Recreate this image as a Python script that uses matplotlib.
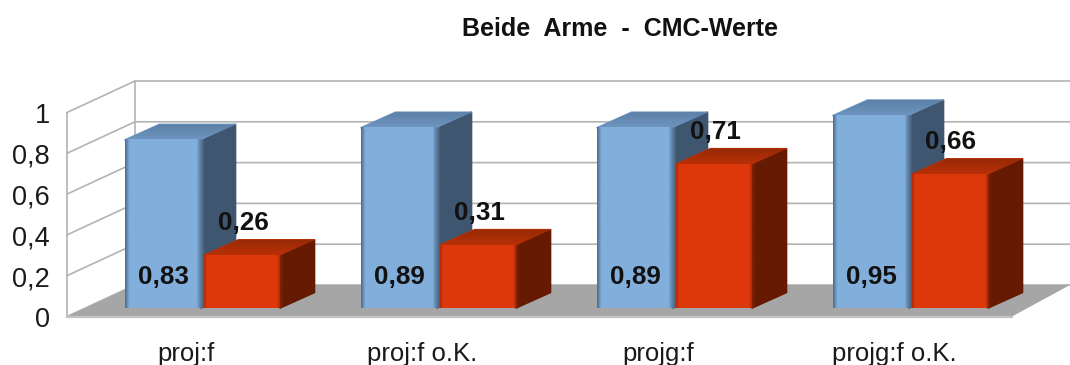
import numpy as np
import matplotlib
matplotlib.use("Agg")
import matplotlib.pyplot as plt
from matplotlib.colors import LinearSegmentedColormap
from matplotlib.patches import Polygon

categories = ["proj:f", "proj:f o.K.", "projg:f", "projg:f o.K."]
blue_values = [0.83, 0.89, 0.89, 0.95]
red_values = [0.26, 0.31, 0.71, 0.66]
y_ticks = [0, 0.2, 0.4, 0.6, 0.8, 1]
y_tick_labels = ["0", "0,2", "0,4", "0,6", "0,8", "1"]

plt.rcParams["font.family"] = ["Liberation Sans", "DejaVu Sans"]

# px per unit on the front plane, whole figure is one axes
PX_X, PX_Y = 236.0, 204.0
DX, DY = 68 / PX_X, 31.5 / PX_Y          # wall depth
BAR_DX, BAR_DY = 34.5 / PX_X, 15.5 / PX_Y  # bar depth
BASE = 8.5 / PX_Y                        # bar foot above front floor edge
BAR_W = 76 / PX_X
X0 = (67 - 203) / PX_X
X1 = (1012 - 203) / PX_X
X_END = (1070 - 203) / PX_X
GRID = "#b3b3b3"

fig = plt.figure(figsize=(10.7, 3.65), dpi=100)
ax = fig.add_axes([0, 0, 1, 1])
ax.axis("off")


def gradient(cols, extent, clip=None, vertical=False, z=3):
    cmap = LinearSegmentedColormap.from_list("g", cols)
    g = np.linspace(0, 1, 90)
    g = g[:, None] if vertical else g[None, :]
    im = ax.imshow(g, cmap=cmap, extent=extent, aspect="auto", zorder=z,
                   origin="lower", interpolation="bilinear")
    if clip is not None:
        im.set_clip_path(clip)


def bar3d(left, value, front, top_cols, side_cols, z):
    right = left + BAR_W
    y0 = BASE
    y1 = BASE + value * 202.5 / PX_Y
    # side
    side = Polygon([(right, y0), (right + BAR_DX, y0 + BAR_DY),
                    (right + BAR_DX, y1 + BAR_DY), (right, y1)],
                   closed=True, fc=side_cols[0], ec=side_cols[0], lw=1.2,
                   joinstyle="round", zorder=z)
    ax.add_patch(side)
    gradient([(0, side_cols[1]), (0.1, side_cols[0]), (1, side_cols[0])],
             (right, right + BAR_DX, y0, y1 + BAR_DY), clip=side, z=z + 0.1)
    # top
    top = Polygon([(left, y1), (right, y1), (right + BAR_DX, y1 + BAR_DY),
                   (left + BAR_DX, y1 + BAR_DY)],
                  closed=True, fc=top_cols[0], ec=top_cols[0], lw=1.2,
                  joinstyle="round", zorder=z)
    ax.add_patch(top)
    gradient([top_cols[0], top_cols[1]], (left, right + BAR_DX, y1, y1 + BAR_DY),
             clip=top, vertical=True, z=z + 0.1)
    # front
    gradient(front, (left, right, y0, y1), z=z + 0.2)


blue_front = [(0, "#4f7094"), (0.05, "#82aedb"), (0.95, "#82aedb"), (1, "#5a7ca3")]
red_front = [(0, "#b02c08"), (0.03, "#dd380b"), (0.97, "#dd380b"), (1, "#b02c08")]
blue_top = ("#6e96c1", "#5d80a7")
red_top = ("#b93007", "#952a06")
blue_side = ("#3f5670", "#5a7898")
red_side = ("#661a02", "#842204")

# walls and floor
ax.add_patch(Polygon([(X0, 0), (X0 + DX, DY), (X_END, DY), (X1, 0)], closed=True,
                     fc="#a6a6a6", ec="none", zorder=1))
for t in y_ticks:
    ax.plot([X0, X0 + DX, X_END], [t, t + DY, t + DY], color=GRID, lw=1.2, zorder=0.5)
ax.plot([X0, X1], [0, 0], color="#c4c4c4", lw=1.6, zorder=1.5)
ax.plot([X0, X0], [0, 1], color=GRID, lw=1.2, zorder=0.5)
ax.plot([X0 + DX, X0 + DX], [DY, 1 + DY], color=GRID, lw=1.2, zorder=0.5)

for t, lab in zip(y_ticks, y_tick_labels):
    ax.text(X0 - 17 / PX_X, t - 3.5 / PX_Y, lab, ha="right", va="center", fontsize=19.5, color="#1a1a1a")

for i, cat in enumerate(categories):
    z = 3 + i
    blue_left = i - 78 / PX_X
    red_left = i + 1 / PX_X
    bar3d(blue_left, blue_values[i], blue_front, blue_top, blue_side, z)
    bar3d(red_left, red_values[i], red_front, red_top, red_side, z + 0.4)
    ax.text(blue_left + BAR_W / 2 + 0.5 / PX_X, 39 / PX_Y, f"{blue_values[i]:.2f}".replace(".", ","),
            ha="center", va="center", fontsize=18.7, fontweight="bold", color="#111111", zorder=20)
    ax.text(red_left + BAR_W / 2 + 1 / PX_X, BASE + red_values[i] * 202.5 / PX_Y + 32.5 / PX_Y,
            f"{red_values[i]:.2f}".replace(".", ","),
            ha="center", va="center", fontsize=18.7, fontweight="bold", color="#111111", zorder=20)
    ax.text(i - 16.5 / PX_X, -37 / PX_Y, cat, ha="center", va="center", fontsize=18.5, color="#1a1a1a")

ax.text((620 - 203) / PX_X, (316.5 - 29) / PX_Y, "Beide  Arme  -  CMC-Werte", ha="center", va="center",
        fontsize=18, fontweight="bold", color="#111111")

ax.set_xlim(-203 / PX_X, X_END)
ax.set_ylim(-48.5 / PX_Y, 316.5 / PX_Y)
fig.savefig("out.png", dpi=100)
plt.close(fig)
